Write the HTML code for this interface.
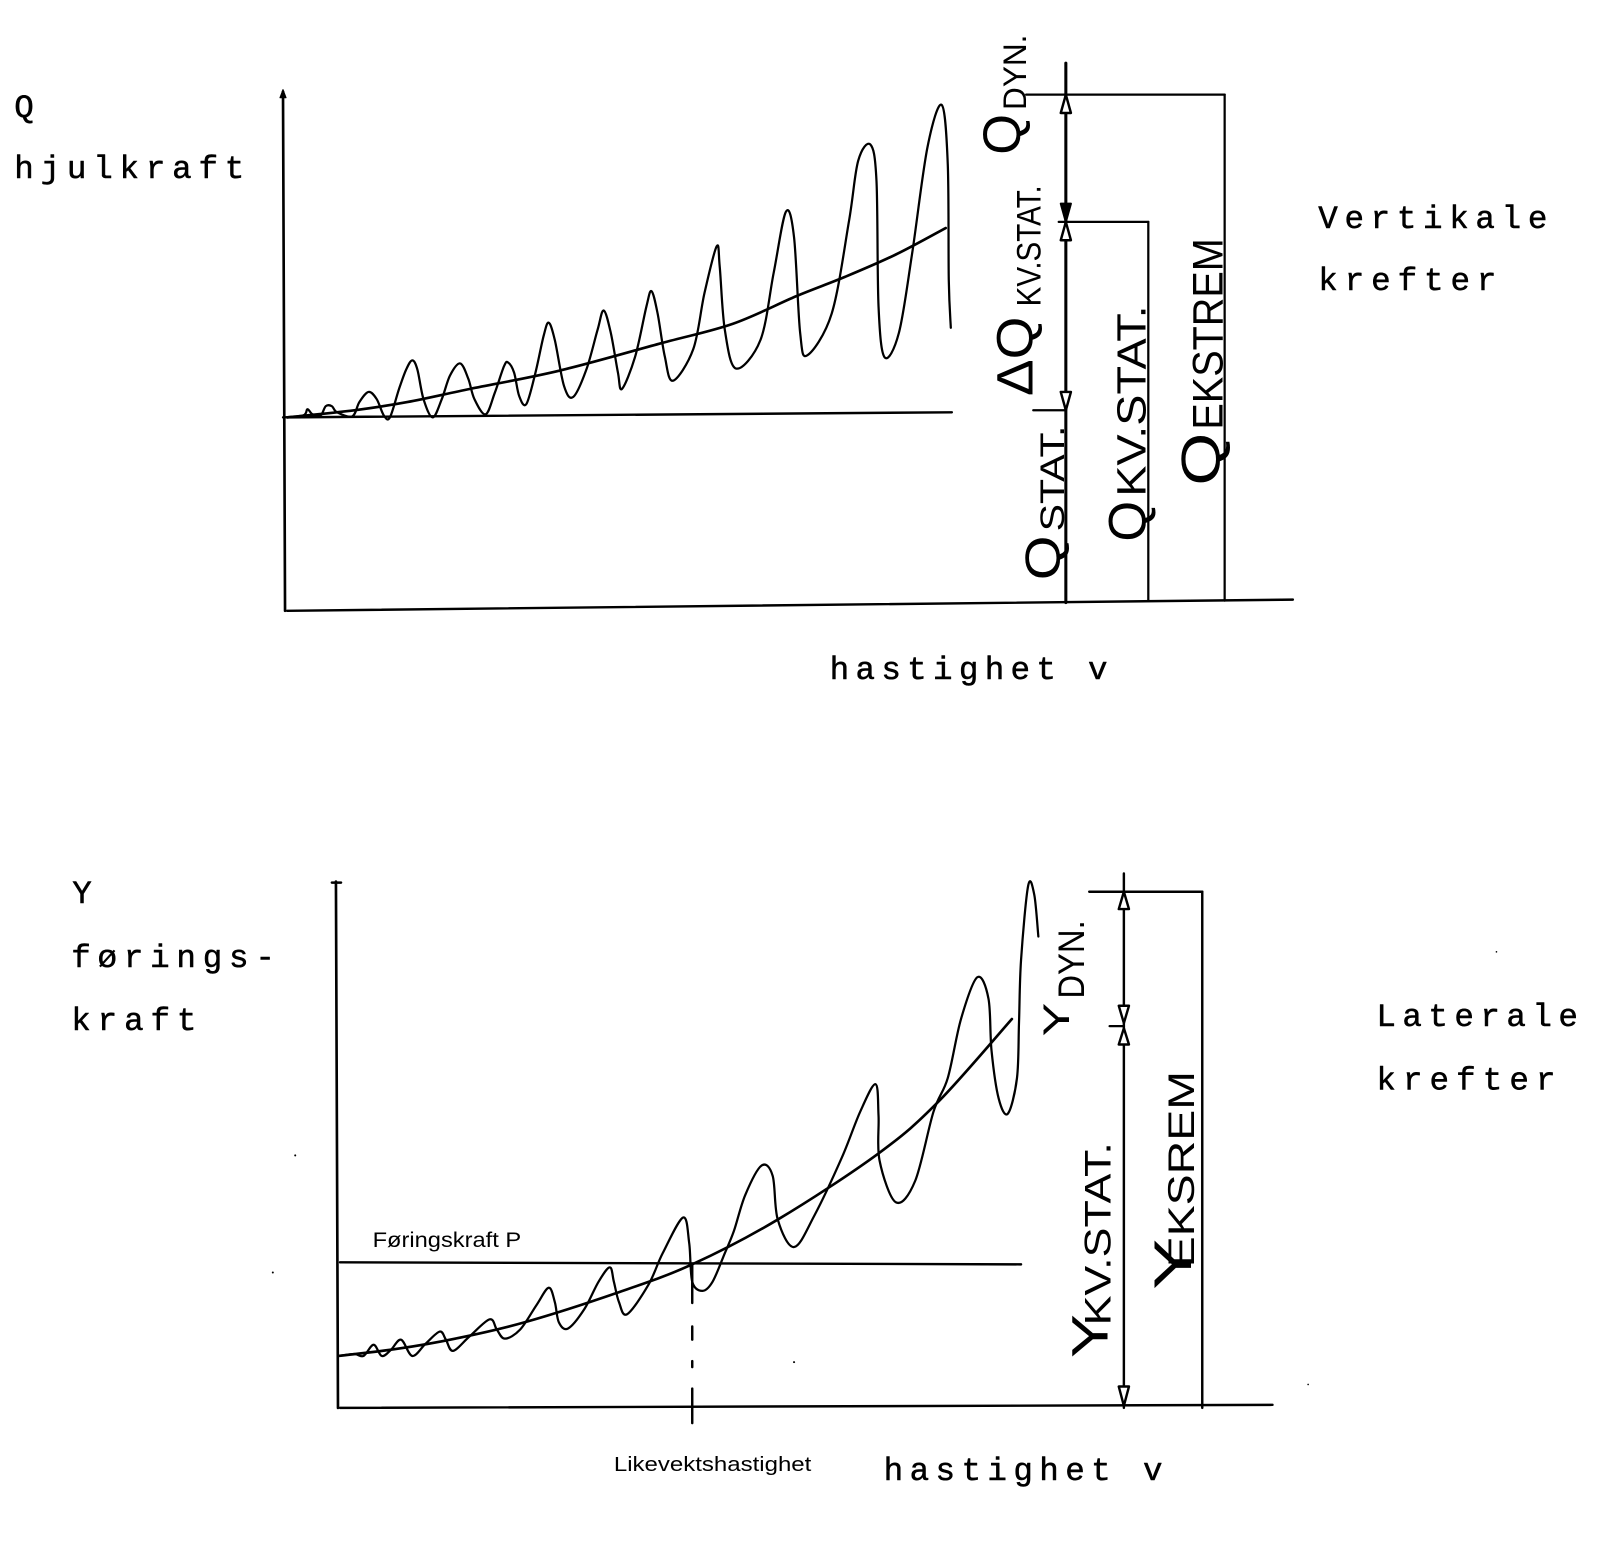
<!DOCTYPE html>
<html>
<head>
<meta charset="utf-8">
<style>
  html,body{margin:0;padding:0;background:#fff;}
  svg{display:block;}
  .mono{font-family:"Liberation Mono","DejaVu Sans Mono",monospace;font-size:32px;fill:#000;stroke:#000;stroke-width:0.5;}
  .hand{font-family:"Liberation Sans","DejaVu Sans",sans-serif;fill:#000;stroke:none;}
  .sans{font-family:"Liberation Sans",Arial,sans-serif;fill:#000;stroke:none;}
</style>
</head>
<body>
<svg id="fig" width="1600" height="1557" viewBox="0 0 1600 1557" xmlns="http://www.w3.org/2000/svg">
<rect width="1600" height="1557" fill="#fff"/>
<g id="main" transform="scale(1.018)" stroke="#000" fill="none" stroke-width="2.2" stroke-linecap="round" stroke-linejoin="round">

  <!-- ================= TOP CHART ================= -->
  <line x1="278" y1="90" x2="280" y2="600" stroke-width="2.6"/>
  <polygon points="275,96 278,88 281,96" fill="#000" stroke-width="1"/>
  <line x1="282" y1="600" x2="1270" y2="589" stroke-width="2.4"/>
  <line x1="282" y1="410" x2="935" y2="405" stroke-width="2.4"/>

  <polyline class="smooth" points="278,410 298,408 302,402 307,407 315,408 320,399 326,399 331,405 346,409 353,395 362,385 370,392 377,408 383,410 392,382 399,363 405,354 410,363 416,392 425,410 434,392 442,369 452,357 460,372 466,392 477,407 486,386 495,360 499,356 505,366 510,389 517,397 526,366 534,330 539,317 545,334 554,379 563,390 576,363 587,324 593,305 600,327 607,366 611,382 624,350 635,301 640,286 646,308 653,350 661,374 681,343 692,288 704,242 707,262 712,324 723,362 747,334 760,268 772,208 780,233 786,327 793,349 817,308 834,217 843,158 855,142 861,178 863,301 869,351 883,327 896,249 911,145 925,103 931,161 932,275 934,322"/>
  <polyline class="smooth" stroke-width="2.6" points="282,410 348,403 400,395 462,382 550,364 650,337 720,318 782,291 830,272 880,250 929,224"/>

  <line x1="1047" y1="62" x2="1047" y2="592" stroke-width="3"/>
  <line x1="1008" y1="93" x2="1203" y2="93"/>
  <line x1="1203" y1="93" x2="1203" y2="590"/>
  <line x1="1040" y1="218" x2="1128" y2="218"/>
  <line x1="1128" y1="218" x2="1128" y2="590"/>
  <line x1="1015" y1="403" x2="1047" y2="403"/>
  <polygon points="1047,93 1042,111 1052,111" fill="#fff" stroke-width="2.4"/>
  <polygon points="1047,218 1042,200 1052,200" fill="#000" stroke-width="2"/>
  <polygon points="1047,218 1042,236 1052,236" fill="#fff" stroke-width="2.4"/>
  <polygon points="1047,403 1042,385 1052,385" fill="#fff" stroke-width="2.4"/>

  <!-- ================= BOTTOM CHART ================= -->
  <line x1="330" y1="866" x2="332" y2="1383" stroke-width="2.6"/>
  <line x1="326" y1="867" x2="335" y2="867" stroke-width="2.4"/>
  <line x1="334" y1="1383" x2="1250" y2="1380" stroke-width="2.4"/>
  <line x1="334" y1="1240" x2="1003" y2="1242" stroke-width="2.4"/>
  <line x1="680" y1="1242" x2="680" y2="1280" stroke-width="2.4"/>
  <line x1="680" y1="1303" x2="680" y2="1316" stroke-width="2.4"/>
  <line x1="680" y1="1337" x2="680" y2="1343" stroke-width="2.4"/>
  <line x1="680" y1="1364" x2="680" y2="1398" stroke-width="2.4"/>

  <polyline class="smooth" points="332,1332 348,1330 357,1332 367,1321 375,1332 384,1326 394,1316 405,1332 418,1320 432,1308 438,1316 445,1327 461,1313 481,1296 488,1306 496,1315 511,1306 527,1282 539,1265 545,1279 549,1299 558,1305 574,1286 588,1259 599,1245 603,1259 608,1279 616,1291 637,1262 651,1231 671,1196 677,1221 680,1259 690,1268 700,1259 712,1231 721,1209 732,1174 748,1145 759,1155 764,1198 780,1225 800,1194 827,1137 845,1092 860,1065 863,1096 864,1140 880,1181 899,1160 917,1092 931,1059 944,1001 960,960 971,981 974,1032 981,1079 990,1094 999,1059 1001,1004 1003,943 1010,870 1016,879 1020,920"/>
  <polyline class="smooth" stroke-width="2.6" points="332,1332 390,1325 447,1315 515,1299 606,1270 680,1242 764,1198 863,1133 922,1082 994,1001"/>

  <line x1="1104" y1="858" x2="1104" y2="1383" stroke-width="2.4"/>
  <line x1="1070" y1="876" x2="1181" y2="876" stroke-width="2.4"/>
  <line x1="1181" y1="876" x2="1181" y2="1383" stroke-width="2.4"/>
  <line x1="1090" y1="1008" x2="1104" y2="1008"/>
  <polygon points="1104,876 1099,893 1109,893" fill="#fff" stroke-width="2.4"/>
  <polygon points="1104,1005 1099,988 1109,988" fill="#fff" stroke-width="2.4"/>
  <polygon points="1104,1010 1099,1026 1109,1026" fill="#fff" stroke-width="2.4"/>
  <polygon points="1104,1381 1099,1362 1109,1362" fill="#fff" stroke-width="2.4"/>

  <circle cx="290" cy="1135" r="1" fill="#000" stroke="none"/>
  <circle cx="268" cy="1250" r="1" fill="#000" stroke="none"/>
  <circle cx="780" cy="1338" r="1" fill="#000" stroke="none"/>
  <circle cx="1470" cy="935" r="0.8" fill="#000" stroke="none"/>
  <circle cx="1285" cy="1360" r="0.8" fill="#000" stroke="none"/>

  <!-- ================= TYPEWRITER TEXT ================= -->
  <text class="mono" x="14" y="115">Q</text>
  <text class="mono" x="14" y="175" textLength="226">hjulkraft</text>
  <text class="mono" x="1295" y="224" textLength="225">Vertikale</text>
  <text class="mono" x="1295" y="285" textLength="175">krefter</text>
  <text class="mono" x="815" y="667" textLength="273">hastighet v</text>

  <text class="mono" x="71" y="887">Y</text>
  <text class="mono" x="70" y="950" textLength="200">førings-</text>
  <text class="mono" x="70" y="1012" textLength="123">kraft</text>
  <text class="mono" x="1352" y="1008" textLength="198">Laterale</text>
  <text class="mono" x="1352" y="1070" textLength="176">krefter</text>
  <text class="mono" x="868" y="1454" textLength="274">hastighet v</text>

  <text class="sans" x="366" y="1225" font-size="21" textLength="146" lengthAdjust="spacingAndGlyphs">Føringskraft P</text>
  <text class="sans" x="603" y="1445" font-size="20" textLength="194" lengthAdjust="spacingAndGlyphs">Likevektshastighet</text>

  <!-- ================= HANDWRITTEN ROTATED LABELS (top) ================= -->
  <text class="hand" font-size="52" transform="translate(1002,152) rotate(-90)" textLength="40" lengthAdjust="spacingAndGlyphs">Q</text>
  <text class="hand" font-size="32" transform="translate(1008,108) rotate(-90)" textLength="74" lengthAdjust="spacingAndGlyphs">DYN.</text>

  <text class="hand" font-size="50" transform="translate(1014,389) rotate(-90)" textLength="78" lengthAdjust="spacingAndGlyphs">ΔQ</text>
  <text class="hand" font-size="34" transform="translate(1022,301) rotate(-90)" textLength="119" lengthAdjust="spacingAndGlyphs">KV.STAT.</text>

  <text class="hand" font-size="48" transform="translate(1041,570) rotate(-90)" textLength="44" lengthAdjust="spacingAndGlyphs">Q</text>
  <text class="hand" font-size="34" transform="translate(1045,522) rotate(-90)" textLength="104" lengthAdjust="spacingAndGlyphs">STAT.</text>

  <text class="hand" font-size="52" transform="translate(1125,532) rotate(-90)" textLength="40" lengthAdjust="spacingAndGlyphs">Q</text>
  <text class="hand" font-size="40" transform="translate(1125,488) rotate(-90)" textLength="188" lengthAdjust="spacingAndGlyphs">KV.STAT.</text>

  <text class="hand" font-size="54" transform="translate(1198,477) rotate(-90)" textLength="52" lengthAdjust="spacingAndGlyphs">Q</text>
  <text class="hand" font-size="42" transform="translate(1201,422) rotate(-90)" textLength="188" lengthAdjust="spacingAndGlyphs">EKSTREM</text>

  <!-- ================= HANDWRITTEN ROTATED LABELS (bottom) ================= -->
  <text class="hand" font-size="36" transform="translate(1050,1018) rotate(-90)" textLength="33" lengthAdjust="spacingAndGlyphs">Y</text>
  <text class="hand" font-size="36" transform="translate(1065,981) rotate(-90)" textLength="77" lengthAdjust="spacingAndGlyphs">DYN.</text>

  <text class="hand" font-size="50" transform="translate(1088,1334) rotate(-90)" textLength="43" lengthAdjust="spacingAndGlyphs">Y</text>
  <text class="hand" font-size="36" transform="translate(1091,1302) rotate(-90)" textLength="180" lengthAdjust="spacingAndGlyphs">KV.STAT.</text>

  <text class="hand" font-size="52" transform="translate(1170,1267) rotate(-90)" textLength="50" lengthAdjust="spacingAndGlyphs">Y</text>
  <text class="hand" font-size="36" transform="translate(1173,1245) rotate(-90)" textLength="193" lengthAdjust="spacingAndGlyphs">EKSREM</text>
</g>
</svg>
<script>
(function(){
  var NS="http://www.w3.org/2000/svg";
  var pls=document.querySelectorAll("polyline.smooth");
  for(var i=0;i<pls.length;i++){
    var pl=pls[i];
    var raw=pl.getAttribute("points").trim().split(/\s+/);
    var p=raw.map(function(s){var a=s.split(",");return [parseFloat(a[0]),parseFloat(a[1])];});
    if(p.length<3) continue;
    var d="M"+p[0][0]+","+p[0][1];
    for(var k=0;k<p.length-1;k++){
      var p0=p[k-1]||p[k], p1=p[k], p2=p[k+1], p3=p[k+2]||p[k+1];
      var c1x=p1[0]+(p2[0]-p0[0])/6, c1y=p1[1]+(p2[1]-p0[1])/6;
      var c2x=p2[0]-(p3[0]-p1[0])/6, c2y=p2[1]-(p3[1]-p1[1])/6;
      d+=" C"+c1x.toFixed(2)+","+c1y.toFixed(2)+" "+c2x.toFixed(2)+","+c2y.toFixed(2)+" "+p2[0]+","+p2[1];
    }
    var path=document.createElementNS(NS,"path");
    path.setAttribute("d",d);
    var sw=pl.getAttribute("stroke-width");
    if(sw) path.setAttribute("stroke-width",sw);
    pl.parentNode.replaceChild(path,pl);
  }
})();
</script>
</body>
</html>
